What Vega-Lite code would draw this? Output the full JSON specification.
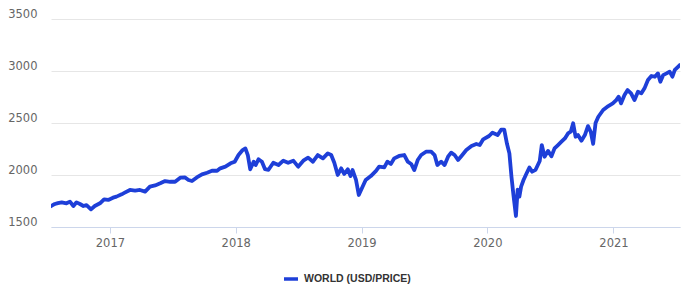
{
  "$schema": "https://vega.github.io/schema/vega-lite/v6.json",
  "width": 629,
  "height": 208,
  "autosize": "none",
  "padding": {"left": 51, "top": 19, "right": 12, "bottom": 59},
  "background": "white",
  "config": {
    "view": {"stroke": null},
    "font": "DejaVu Sans"
  },
  "data": {
    "values": [
      {"date": "2016-07-14", "value": 1700},
      {"date": "2016-07-20", "value": 1712},
      {"date": "2016-07-25", "value": 1721},
      {"date": "2016-08-03", "value": 1730},
      {"date": "2016-08-14", "value": 1737},
      {"date": "2016-08-28", "value": 1728},
      {"date": "2016-09-07", "value": 1744},
      {"date": "2016-09-17", "value": 1702},
      {"date": "2016-09-26", "value": 1737},
      {"date": "2016-10-06", "value": 1721},
      {"date": "2016-10-16", "value": 1702},
      {"date": "2016-10-25", "value": 1711},
      {"date": "2016-11-07", "value": 1670},
      {"date": "2016-11-18", "value": 1702},
      {"date": "2016-12-03", "value": 1728},
      {"date": "2016-12-15", "value": 1766},
      {"date": "2016-12-27", "value": 1760},
      {"date": "2017-01-10", "value": 1782},
      {"date": "2017-01-20", "value": 1792},
      {"date": "2017-02-04", "value": 1814},
      {"date": "2017-02-13", "value": 1830},
      {"date": "2017-02-28", "value": 1856},
      {"date": "2017-03-15", "value": 1850},
      {"date": "2017-03-29", "value": 1856},
      {"date": "2017-04-13", "value": 1840},
      {"date": "2017-04-27", "value": 1888},
      {"date": "2017-05-12", "value": 1900},
      {"date": "2017-05-27", "value": 1920},
      {"date": "2017-06-10", "value": 1942},
      {"date": "2017-06-25", "value": 1935},
      {"date": "2017-07-09", "value": 1935},
      {"date": "2017-07-24", "value": 1974},
      {"date": "2017-08-07", "value": 1977},
      {"date": "2017-08-17", "value": 1952},
      {"date": "2017-08-27", "value": 1942},
      {"date": "2017-09-10", "value": 1977},
      {"date": "2017-09-25", "value": 2006},
      {"date": "2017-10-10", "value": 2022},
      {"date": "2017-10-24", "value": 2041},
      {"date": "2017-11-08", "value": 2041},
      {"date": "2017-11-17", "value": 2064},
      {"date": "2017-12-02", "value": 2080},
      {"date": "2017-12-17", "value": 2112},
      {"date": "2017-12-29", "value": 2128},
      {"date": "2018-01-09", "value": 2192},
      {"date": "2018-01-21", "value": 2240},
      {"date": "2018-01-29", "value": 2256},
      {"date": "2018-02-05", "value": 2192},
      {"date": "2018-02-12", "value": 2055},
      {"date": "2018-02-22", "value": 2128},
      {"date": "2018-02-28", "value": 2096},
      {"date": "2018-03-08", "value": 2151},
      {"date": "2018-03-18", "value": 2128},
      {"date": "2018-03-27", "value": 2056},
      {"date": "2018-04-06", "value": 2050},
      {"date": "2018-04-20", "value": 2118},
      {"date": "2018-05-05", "value": 2096},
      {"date": "2018-05-19", "value": 2138},
      {"date": "2018-06-02", "value": 2118},
      {"date": "2018-06-17", "value": 2138},
      {"date": "2018-07-01", "value": 2080},
      {"date": "2018-07-16", "value": 2138},
      {"date": "2018-07-30", "value": 2167},
      {"date": "2018-08-13", "value": 2128},
      {"date": "2018-08-27", "value": 2192},
      {"date": "2018-09-11", "value": 2160},
      {"date": "2018-09-25", "value": 2208},
      {"date": "2018-10-05", "value": 2192},
      {"date": "2018-10-14", "value": 2118},
      {"date": "2018-10-24", "value": 2000},
      {"date": "2018-11-03", "value": 2064},
      {"date": "2018-11-12", "value": 2010},
      {"date": "2018-11-22", "value": 2055},
      {"date": "2018-11-30", "value": 1990},
      {"date": "2018-12-06", "value": 2048},
      {"date": "2018-12-16", "value": 1952},
      {"date": "2018-12-24", "value": 1808},
      {"date": "2019-01-03", "value": 1880},
      {"date": "2019-01-13", "value": 1952},
      {"date": "2019-01-28", "value": 1990},
      {"date": "2019-02-12", "value": 2040},
      {"date": "2019-02-21", "value": 2080},
      {"date": "2019-03-08", "value": 2074},
      {"date": "2019-03-17", "value": 2128},
      {"date": "2019-03-27", "value": 2106},
      {"date": "2019-04-06", "value": 2160},
      {"date": "2019-04-20", "value": 2183},
      {"date": "2019-05-05", "value": 2192},
      {"date": "2019-05-15", "value": 2128},
      {"date": "2019-05-25", "value": 2106},
      {"date": "2019-06-03", "value": 2048},
      {"date": "2019-06-13", "value": 2144},
      {"date": "2019-06-23", "value": 2192},
      {"date": "2019-07-07", "value": 2224},
      {"date": "2019-07-22", "value": 2224},
      {"date": "2019-08-01", "value": 2192},
      {"date": "2019-08-09", "value": 2096},
      {"date": "2019-08-20", "value": 2128},
      {"date": "2019-08-30", "value": 2096},
      {"date": "2019-09-09", "value": 2176},
      {"date": "2019-09-18", "value": 2215},
      {"date": "2019-09-28", "value": 2192},
      {"date": "2019-10-08", "value": 2144},
      {"date": "2019-10-18", "value": 2183},
      {"date": "2019-11-01", "value": 2240},
      {"date": "2019-11-16", "value": 2279},
      {"date": "2019-11-30", "value": 2298},
      {"date": "2019-12-10", "value": 2288},
      {"date": "2019-12-20", "value": 2343},
      {"date": "2020-01-06", "value": 2375},
      {"date": "2020-01-16", "value": 2407},
      {"date": "2020-01-31", "value": 2384},
      {"date": "2020-02-10", "value": 2436},
      {"date": "2020-02-19", "value": 2436},
      {"date": "2020-02-27", "value": 2300},
      {"date": "2020-03-05", "value": 2208},
      {"date": "2020-03-11", "value": 1984},
      {"date": "2020-03-17", "value": 1800},
      {"date": "2020-03-24", "value": 1606},
      {"date": "2020-03-29", "value": 1860},
      {"date": "2020-04-03", "value": 1792},
      {"date": "2020-04-08", "value": 1888},
      {"date": "2020-04-15", "value": 1952},
      {"date": "2020-04-23", "value": 2010},
      {"date": "2020-05-02", "value": 2072},
      {"date": "2020-05-10", "value": 2032},
      {"date": "2020-05-20", "value": 2050},
      {"date": "2020-06-01", "value": 2135},
      {"date": "2020-06-07", "value": 2288},
      {"date": "2020-06-15", "value": 2176},
      {"date": "2020-06-25", "value": 2232},
      {"date": "2020-07-05", "value": 2180},
      {"date": "2020-07-14", "value": 2256},
      {"date": "2020-07-24", "value": 2288},
      {"date": "2020-08-03", "value": 2320},
      {"date": "2020-08-13", "value": 2352},
      {"date": "2020-08-22", "value": 2400},
      {"date": "2020-08-30", "value": 2416},
      {"date": "2020-09-06", "value": 2497},
      {"date": "2020-09-13", "value": 2368},
      {"date": "2020-09-20", "value": 2384},
      {"date": "2020-09-30", "value": 2330},
      {"date": "2020-10-10", "value": 2384},
      {"date": "2020-10-19", "value": 2470},
      {"date": "2020-10-27", "value": 2416},
      {"date": "2020-11-03", "value": 2300},
      {"date": "2020-11-10", "value": 2500},
      {"date": "2020-11-18", "value": 2560},
      {"date": "2020-12-02", "value": 2625},
      {"date": "2020-12-17", "value": 2663},
      {"date": "2020-12-30", "value": 2689},
      {"date": "2021-01-09", "value": 2721},
      {"date": "2021-01-16", "value": 2753},
      {"date": "2021-01-23", "value": 2689},
      {"date": "2021-02-02", "value": 2769},
      {"date": "2021-02-11", "value": 2817},
      {"date": "2021-02-21", "value": 2785},
      {"date": "2021-03-03", "value": 2721},
      {"date": "2021-03-13", "value": 2801},
      {"date": "2021-03-23", "value": 2785},
      {"date": "2021-04-01", "value": 2833},
      {"date": "2021-04-11", "value": 2913},
      {"date": "2021-04-21", "value": 2952},
      {"date": "2021-05-01", "value": 2945},
      {"date": "2021-05-10", "value": 2977},
      {"date": "2021-05-17", "value": 2897},
      {"date": "2021-05-25", "value": 2960},
      {"date": "2021-06-04", "value": 2977},
      {"date": "2021-06-13", "value": 2994},
      {"date": "2021-06-21", "value": 2945},
      {"date": "2021-06-28", "value": 3010},
      {"date": "2021-07-08", "value": 3042},
      {"date": "2021-07-13", "value": 3058}
    ]
  },
  "mark": {"type": "line", "strokeWidth": 3.8, "strokeJoin": "round", "strokeCap": "round", "clip": true},
  "encoding": {
    "x": {
      "field": "date",
      "type": "temporal",
      "scale": {"nice": false},
      "axis": {
        "title": null,
        "format": "%Y",
        "tickCount": "year",
        "grid": false,
        "domainColor": "#ccd6eb",
        "domainWidth": 1,
        "tickColor": "#ccd6eb",
        "tickSize": 6,
        "labelPadding": 4,
        "labelColor": "#666666",
        "labelFontSize": 11.5,
        "labelFont": "DejaVu Sans"
      }
    },
    "y": {
      "field": "value",
      "type": "quantitative",
      "scale": {"domain": [1500, 3500], "nice": false, "zero": false},
      "axis": {
        "title": null,
        "values": [1500, 2000, 2500, 3000, 3500],
        "format": "d",
        "domain": false,
        "ticks": false,
        "gridColor": "#e6e6e6",
        "gridWidth": 1,
        "labelPadding": 14,
        "labelColor": "#666666",
        "labelFontSize": 11.5,
        "labelFont": "DejaVu Sans",
        "labelBaseline": "alphabetic",
        "labelOffset": -2
      }
    },
    "color": {
      "datum": "WORLD (USD/PRICE)",
      "type": "nominal",
      "scale": {"range": ["#1e3fd8"]},
      "legend": {
        "title": null,
        "orient": "none",
        "legendX": 231,
        "legendY": 251,
        "padding": 0,
        "symbolType": "stroke",
        "symbolSize": 196,
        "symbolStrokeWidth": 3.5,
        "labelFont": "Liberation Sans",
        "labelFontWeight": "bold",
        "labelFontSize": 10.5,
        "labelColor": "#333333",
        "labelOffset": 4
      }
    }
  }
}
